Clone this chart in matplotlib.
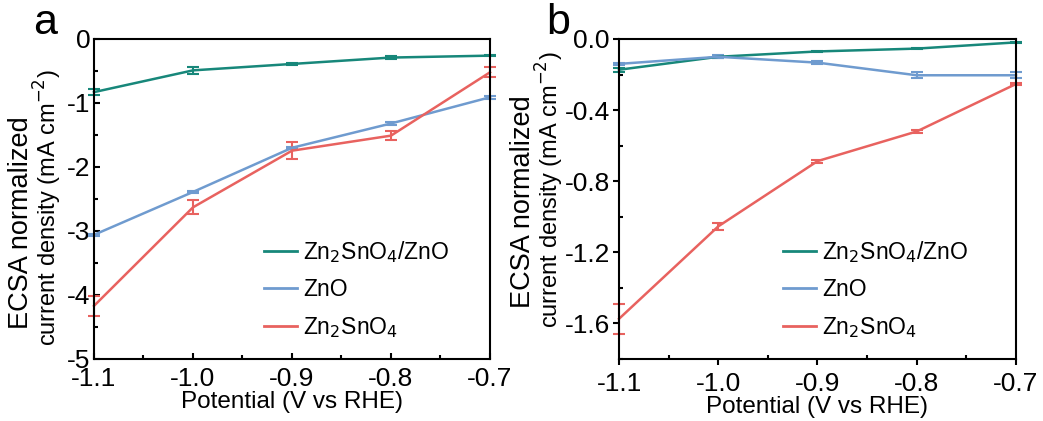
import numpy as np
import matplotlib.pyplot as plt
from matplotlib.ticker import MultipleLocator
from matplotlib.lines import Line2D

plt.rcParams['font.family'] = ['Liberation Sans', 'DejaVu Sans']

potential = [-1.1, -1.0, -0.9, -0.8, -0.7]

# panel a
a_zso_zno = [-0.83, -0.49, -0.39, -0.29, -0.26]
a_zso_zno_err = [0.05, 0.06, 0.02, 0.02, 0.01]
a_zno = [-3.06, -2.39, -1.70, -1.32, -0.91]
a_zno_err = [0.02, 0.02, 0.02, 0.02, 0.02]
a_zso = [-4.17, -2.63, -1.745, -1.51, -0.52]
a_zso_err = [0.16, 0.11, 0.13, 0.075, 0.08]

# panel b
b_zso_zno = [-0.173, -0.100, -0.070, -0.054, -0.019]
b_zso_zno_err = [0.01, 0.005, 0.003, 0.005, 0.003]
b_zno = [-0.140, -0.100, -0.133, -0.204, -0.204]
b_zno_err = [0.005, 0.008, 0.008, 0.016, 0.016]
b_zso = [-1.574, -1.054, -0.687, -0.520, -0.253]
b_zso_err = [0.085, 0.02, 0.008, 0.006, 0.008]

labels = ['Zn$_2$SnO$_4$/ZnO', 'ZnO', 'Zn$_2$SnO$_4$']
colors = ['#17877a', '#6f9bcf', '#e8625f']

W, H = 1043, 421
fig = plt.figure(figsize=(W / 100, H / 100), dpi=100)
ax1 = fig.add_axes([94 / W, 1 - 359 / H, 396 / W, 320 / H])
ax2 = fig.add_axes([619 / W, 1 - 359 / H, 397 / W, 320 / H])


def draw(ax, series, errs, ylim, ystep, yminor, fmt, major_dir, leg_x):
    for y, e, c in zip(series, errs, colors):
        ax.errorbar(potential, y, yerr=e, color=c, lw=1.8, capsize=4,
                    capthick=1.5, elinewidth=1.5, clip_on=False)
    ax.set_xlim(-1.1, -0.7)
    ax.set_ylim(*ylim)
    ax.xaxis.set_major_locator(MultipleLocator(0.1))
    ax.xaxis.set_minor_locator(MultipleLocator(0.05))
    ax.yaxis.set_major_locator(MultipleLocator(ystep))
    ax.yaxis.set_minor_locator(MultipleLocator(yminor))
    ax.xaxis.set_major_formatter(plt.FormatStrFormatter('%.1f'))
    ax.yaxis.set_major_formatter(plt.FormatStrFormatter(fmt))
    ax.tick_params(which='major', direction=major_dir, length=4, width=1.5,
                   labelsize=19)
    ax.tick_params(axis='x', which='major', pad=5.5)
    ax.tick_params(axis='y', which='major', pad=2.5)
    ax.tick_params(which='minor', direction='in', length=3, width=1.5)
    for s in ax.spines.values():
        s.set_linewidth(1.5)
    ax.set_xlabel('Potential (V vs RHE)', fontsize=17.5, labelpad=0)
    handles = [Line2D([], [], color=c, lw=2) for c in colors]
    ax.legend(handles, labels, loc='lower left',
              bbox_to_anchor=(leg_x, -0.005), frameon=False, fontsize=16.5,
              handlelength=1.44, handletextpad=0.3, labelspacing=0.6)


draw(ax1, [a_zso_zno, a_zno, a_zso], [a_zso_zno_err, a_zno_err, a_zso_err],
     (-5, 0), 1, 0.5, '%d', 'in', 0.376)
draw(ax2, [b_zso_zno, b_zno, b_zso], [b_zso_zno_err, b_zno_err, b_zso_err],
     (-1.8, 0), 0.4, 0.2, '%.1f', 'out', 0.36)

# two-line y labels (first line set larger, as in the original)
for x1, x2, yc1, yc2 in [(21, 48, 223, 208), (523, 550, 202, 190)]:
    fig.text(x1 / W, 1 - yc1 / H, 'ECSA normalized', rotation=90,
             fontsize=19.5, ha='center', va='center')
    fig.text(x2 / W, 1 - yc2 / H, 'current density (mA cm$^{-2}$)',
             rotation=90, fontsize=17, ha='center', va='center')

fig.text(33 / W, 1 - 34 / H, 'a', fontsize=31, ha='left', va='baseline')
fig.text(546 / W, 1 - 34 / H, 'b', fontsize=31, ha='left', va='baseline')

fig.savefig('out.png', dpi=100)
